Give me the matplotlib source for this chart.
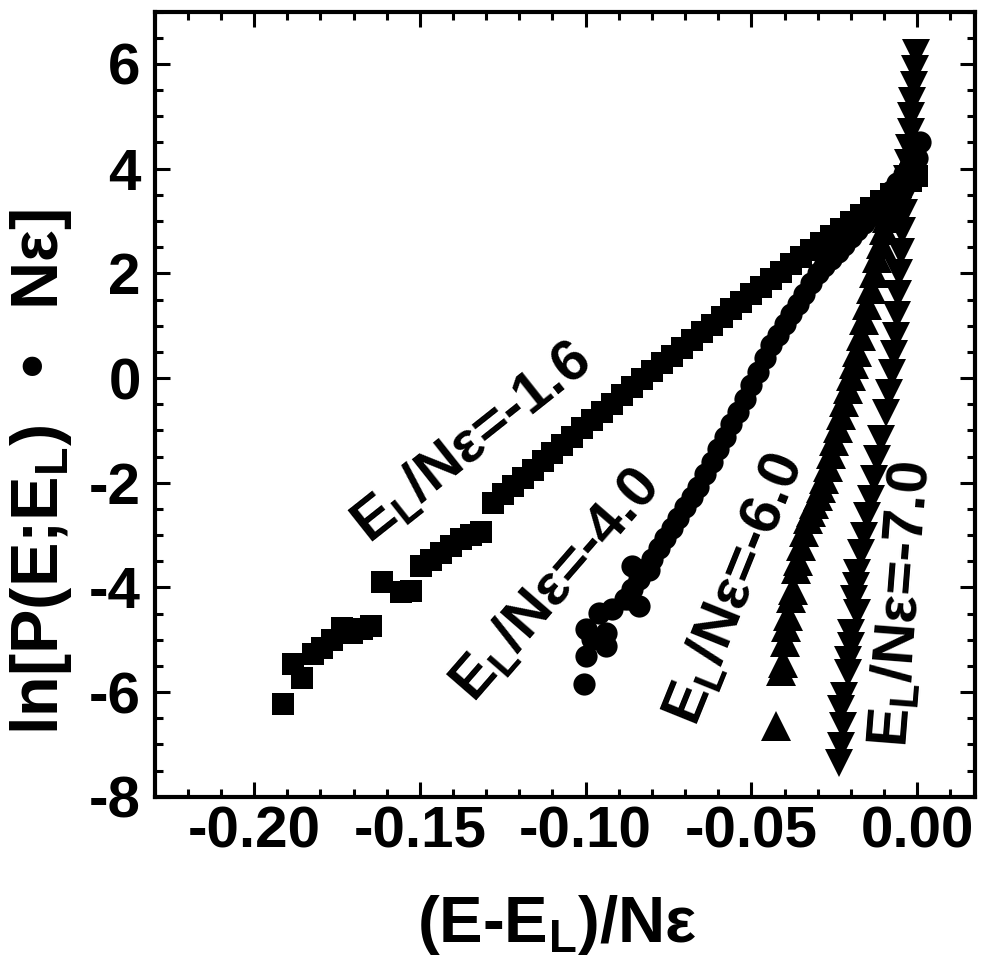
import matplotlib
matplotlib.use("Agg")
import matplotlib.pyplot as plt
from matplotlib.ticker import MultipleLocator, FormatStrFormatter

plt.rcParams['font.family'] = ['Liberation Sans', 'DejaVu Sans']
plt.rcParams['font.weight'] = 'bold'
plt.rcParams['mathtext.default'] = 'regular'
plt.rcParams['axes.unicode_minus'] = False

# E_L/Ne = -1.6 (squares)
x_sq = [-0.1913, -0.1883, -0.1855, -0.1822, -0.1795, -0.1766, -0.1736, -0.1706,
        -0.1676, -0.1646, -0.1613, -0.1556, -0.1526, -0.1496, -0.1466, -0.1436,
        -0.1406, -0.1376, -0.1346, -0.1316, -0.1280,
        -0.125, -0.122, -0.119, -0.116, -0.113, -0.110, -0.107, -0.104, -0.101,
        -0.098, -0.095, -0.092, -0.089, -0.086, -0.083, -0.080, -0.077, -0.074,
        -0.071, -0.068, -0.065, -0.062, -0.059, -0.056, -0.053, -0.050, -0.047,
        -0.044, -0.041, -0.038, -0.035, -0.032, -0.029, -0.026, -0.023, -0.020,
        -0.017, -0.014, -0.011, -0.008, -0.005, -0.002, 0.000]
y_sq = [-6.22, -5.47, -5.73, -5.28, -5.15, -5.00, -4.77, -4.87,
        -4.80, -4.74, -3.90, -4.08, -4.07, -3.60, -3.47, -3.34,
        -3.20, -3.08, -2.99, -2.94, -2.38,
        -2.22, -2.06, -1.91, -1.75, -1.59, -1.43, -1.28, -1.12, -0.96,
        -0.80, -0.64, -0.49, -0.33, -0.17, -0.01, 0.14, 0.28, 0.43,
        0.58, 0.72, 0.87, 1.01, 1.16, 1.31, 1.45, 1.60, 1.74,
        1.89, 2.03, 2.18, 2.32, 2.45, 2.58, 2.72, 2.85, 2.98,
        3.11, 3.24, 3.38, 3.51, 3.64, 3.77, 3.86]

# E_L/Ne = -4.0 (circles)
x_ci = [-0.1005, -0.1000, -0.0980, -0.1000, -0.0940, -0.0940, -0.0960, -0.0920,
        -0.0870, -0.0840, -0.0860, -0.0810,
        -0.088, -0.086, -0.084, -0.082, -0.080, -0.078, -0.076, -0.074, -0.072,
        -0.070, -0.068, -0.066, -0.064, -0.062, -0.060, -0.058, -0.056, -0.054,
        -0.052, -0.050, -0.048, -0.046, -0.044, -0.042, -0.040, -0.038, -0.036,
        -0.034, -0.032, -0.030, -0.028, -0.026, -0.024, -0.022, -0.020, -0.018,
        -0.016, -0.014, -0.012, -0.010, -0.008, -0.006, -0.004, -0.002, 0.000, 0.001]
y_ci = [-5.85, -5.31, -4.99, -4.80, -5.12, -4.87, -4.48, -4.42,
        -4.23, -4.36, -3.59, -3.66,
        -4.23, -4.03, -3.84, -3.64, -3.45, -3.25, -3.06, -2.86, -2.67,
        -2.47, -2.28, -2.08, -1.83, -1.60, -1.36, -1.12, -0.88, -0.65,
        -0.41, -0.14, 0.12, 0.38, 0.64, 0.83, 1.03, 1.22, 1.42,
        1.61, 1.81, 2.00, 2.14, 2.28, 2.41, 2.55, 2.69, 2.83,
        2.96, 3.10, 3.26, 3.41, 3.57, 3.73, 3.89, 4.04, 4.20, 4.50]

# E_L/Ne = -6.0 (up triangles)
x_tu = [-0.0425, -0.0410, -0.0405, -0.0400, -0.0395, -0.0390, -0.0380, -0.0375,
        -0.0365, -0.0360, -0.0350, -0.0340, -0.0330,
        -0.032, -0.031, -0.030, -0.029, -0.028, -0.027, -0.026, -0.025, -0.024,
        -0.023, -0.022, -0.021, -0.020, -0.019, -0.018, -0.017, -0.016, -0.015,
        -0.014, -0.013, -0.012, -0.011, -0.010, -0.009, -0.008, -0.007, -0.006,
        -0.005, -0.004, -0.003, -0.002]
y_tu = [-6.65, -5.60, -5.45, -5.05, -4.75, -4.55, -4.20, -4.05,
        -3.65, -3.50, -3.20, -2.95, -2.70,
        -2.55, -2.40, -2.25, -2.10, -1.93, -1.70, -1.45, -1.20, -0.95,
        -0.70, -0.45, -0.20, 0.04, 0.27, 0.50, 0.80, 1.10, 1.40,
        1.70, 2.00, 2.30, 2.57, 2.82, 3.05, 3.27, 3.48, 3.68,
        3.85, 3.98, 4.08, 4.18]

# E_L/Ne = -7.0 (down triangles)
x_td = [-0.0235, -0.0230, -0.0225, -0.0230, -0.0220, -0.0210, -0.0210, -0.0200,
        -0.0200, -0.0180, -0.0190, -0.0185, -0.0180, -0.0170, -0.0160, -0.0150,
        -0.0140, -0.0130, -0.0120, -0.0110, -0.0095, -0.0085, -0.0075,
        -0.0070, -0.0065, -0.0060, -0.0058, -0.0055, -0.0050, -0.0045, -0.0040,
        -0.0035, -0.0030, -0.0027, -0.0024, -0.0020, -0.0017, -0.0014, -0.0010,
        -0.0006, -0.0003]
y_td = [-7.35, -7.03, -6.65, -6.33, -6.08, -5.63, -5.38, -5.12,
        -4.87, -4.48, -4.23, -3.97, -3.72, -3.34, -3.02, -2.64,
        -2.32, -1.93, -1.55, -1.17, -0.66, -0.28, 0.10,
        0.45, 0.80, 1.20, 1.60, 2.00, 2.40, 2.80, 3.15,
        3.50, 3.80, 4.10, 4.40, 4.70, 5.00, 5.30, 5.60,
        5.90, 6.20]

labels = ["E$_L$/N\u03b5=-1.6", "E$_L$/N\u03b5=-4.0", "E$_L$/N\u03b5=-6.0", "E$_L$/N\u03b5=-7.0"]
label_x = [-0.1343, -0.109, -0.055, -0.0047]
label_y = [-1.25, -3.97, -4.04, -4.32]
label_rot = [38.4, 49, 68, 85.5]

fig = plt.figure(figsize=(9.85, 9.67), dpi=100)
ax = fig.add_axes([0.157, 0.176, 0.833, 0.812])

ax.plot(x_sq, y_sq, "s", color="black", markersize=16, markeredgewidth=0)
ax.plot(x_ci, y_ci, "o", color="black", markersize=16, markeredgewidth=0)
ax.plot(x_tu, y_tu, "^", color="black", markersize=21, markeredgewidth=0)
ax.plot(x_td, y_td, "v", color="black", markersize=20, markeredgewidth=0)

for s, tx, ty, r in zip(labels, label_x, label_y, label_rot):
    ax.text(tx, ty, s, rotation=r, ha="center", va="center", rotation_mode="anchor",
            fontsize=42, fontweight="bold")

ax.set_xlim(-0.23, 0.0175)
ax.set_ylim(-8, 7)
ax.xaxis.set_major_locator(MultipleLocator(0.05))
ax.xaxis.set_minor_locator(MultipleLocator(0.01))
ax.yaxis.set_major_locator(MultipleLocator(2))
ax.yaxis.set_minor_locator(MultipleLocator(0.5))
ax.xaxis.set_major_formatter(FormatStrFormatter("%.2f"))
ax.yaxis.set_major_formatter(FormatStrFormatter("%d"))
ax.tick_params(which="both", direction="in", top=True, right=True, width=2.2)
ax.tick_params(which="major", length=11, labelsize=42)
ax.tick_params(axis="x", which="major", pad=6)
ax.tick_params(axis="y", which="major", pad=10)
ax.tick_params(which="minor", length=6)
for sp in ax.spines.values():
    sp.set_linewidth(3)

ax.set_xlabel("(E-E$_L$)/N\u03b5", fontsize=47, fontweight="bold")
ax.set_ylabel("ln[P(E;E$_L$)  \u2022  N\u03b5]", fontsize=48, fontweight="bold")
ax.xaxis.set_label_coords(0.49, -0.122)
ax.yaxis.set_label_coords(-0.098, 0.414)

plt.savefig("out.png", dpi=100)
